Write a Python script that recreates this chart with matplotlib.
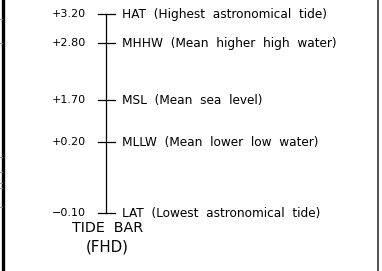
import matplotlib
matplotlib.use("Agg")
import matplotlib.pyplot as plt

# tide levels (FHD)
codes = ["HAT", "MHHW", "MSL", "MLLW", "LAT"]
names = ["Highest  astronomical  tide", "Mean  higher  high  water",
         "Mean  sea  level", "Mean  lower  low  water", "Lowest  astronomical  tide"]
levels = [3.20, 2.80, 1.70, 0.20, -0.10]

# schematic drawing, not to scale -> pixel rows of each tick
tick_rows = [14, 43, 100, 142, 213]

fig = plt.figure(figsize=(3.82, 2.71), dpi=100)
ax = fig.add_axes([0, 0, 1, 1])
ax.set_xlim(0, 382)
ax.set_ylim(271, 0)
ax.axis("off")

bar_x = 106
ax.plot([bar_x, bar_x], [tick_rows[0], tick_rows[-1]], color="black", lw=0.9)
for lv, code, name, y in zip(levels, codes, names, tick_rows):
    ax.plot([98, 115], [y, y], color="black", lw=0.9)
    txt = ("+%.2f" % lv) if lv >= 0 else ("\u2212%.2f" % abs(lv))
    ax.text(86, y, txt, ha="right", va="center", fontsize=8)
    ax.text(122, y + 0.5, "%s  (%s)" % (code, name), ha="left", va="center", fontsize=8.7)

ax.text(108, 228.5, "TIDE  BAR", ha="center", va="center", fontsize=10.3)
ax.text(107, 247, "(FHD)", ha="center", va="center", fontsize=10.8)

# sheet frame edges
ax.plot([2.7, 2.7], [0, 271], color="black", lw=2.4)
ax.plot([377.8, 377.8], [0, 271], color="#222222", lw=1.1)
for y in [19, 43, 157, 172, 183, 188, 207]:
    ax.plot([0, 1.5], [y, y], color="#888888", lw=0.6)

fig.savefig("out.png", dpi=100)
